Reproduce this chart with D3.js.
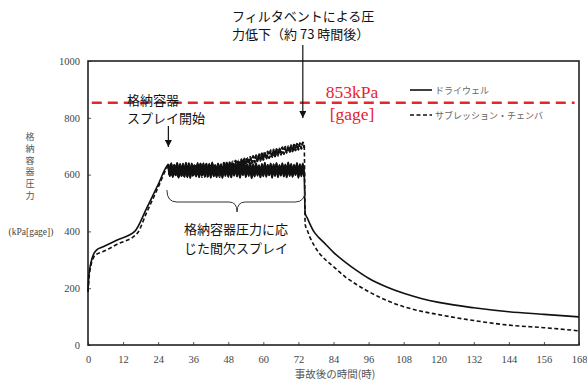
<!DOCTYPE html>
<html>
<head>
<meta charset="utf-8">
<script src="https://cdn.jsdelivr.net/npm/d3@7"></script>
<style>
  body { margin: 0; background: #fff; }
  svg { display: block; }
</style>
</head>
<body>
<div id="chart"></div>
<script>
// --- data ---
const xTicks = [0, 12, 24, 36, 48, 60, 72, 84, 96, 108, 120, 132, 144, 156, 168];
const yTicks = [0, 200, 400, 600, 800, 1000];
const limitValue = 853;

// before spray (hours, kPa)
const dwEarlyHours = [0, 0.3, 1, 2, 3, 5, 10, 16, 20, 24, 27];
const dwEarly = [188, 245, 290, 322, 335, 345, 370, 400, 480, 565, 630];
const scEarlyHours = [0, 0.3, 1, 2, 3, 5, 10, 16, 17, 20, 24, 27];
const scEarly = [188, 230, 280, 310, 320, 328, 355, 385, 395, 465, 555, 625];

// intermittent spray, sampled every half hour from 27.5 h to 74 h
const sprayHours = [
  27.5, 28, 28.5, 29, 29.5, 30, 30.5, 31, 31.5, 32, 32.5, 33, 33.5, 34, 34.5, 35, 35.5, 36, 36.5, 37,
  37.5, 38, 38.5, 39, 39.5, 40, 40.5, 41, 41.5, 42, 42.5, 43, 43.5, 44, 44.5, 45, 45.5, 46, 46.5, 47,
  47.5, 48, 48.5, 49, 49.5, 50, 50.5, 51, 51.5, 52, 52.5, 53, 53.5, 54, 54.5, 55, 55.5, 56, 56.5, 57,
  57.5, 58, 58.5, 59, 59.5, 60, 60.5, 61, 61.5, 62, 62.5, 63, 63.5, 64, 64.5, 65, 65.5, 66, 66.5, 67,
  67.5, 68, 68.5, 69, 69.5, 70, 70.5, 71, 71.5, 72, 72.5, 73, 73.5, 74
];
const dwSpray = [
  636, 595, 639, 592, 634, 598, 640, 590, 637, 596, 633, 593, 641, 597, 635, 589, 638, 599, 632, 594,
  640, 591, 636, 597, 639, 593, 634, 600, 637, 590, 642, 595, 633, 592, 638, 598, 635, 589, 640, 596,
  636, 593, 639, 591, 634, 597, 641, 594, 637, 590, 633, 599, 638, 592, 635, 596, 640, 588, 636, 594,
  639, 597, 632, 591, 637, 595, 641, 593, 634, 598, 638, 590, 636, 596, 640, 592, 633, 597, 639, 594,
  635, 591, 642, 596, 637, 593, 634, 599, 640, 590, 636, 595, 638, 592
];
const scSpray = [
  634, 597, 637, 593, 635, 599, 639, 591, 633, 596, 638, 594, 636, 590, 640, 598, 632, 593, 637, 595,
  635, 599, 639, 592, 634, 596, 638, 591, 636, 597, 640, 594, 633, 598, 637, 592, 635, 600, 641, 606,
  643, 612, 644, 615, 646, 620, 649, 623, 650, 628, 654, 631, 656, 634, 659, 637, 662, 640, 665, 643,
  668, 646, 672, 649, 675, 652, 679, 655, 681, 658, 685, 661, 688, 664, 690, 667, 693, 670, 696, 673,
  698, 676, 701, 679, 703, 682, 706, 685, 708, 688, 710, 691, 713, 694
];

// after the filtered vent
const ventHours = [74.3, 75, 76, 77.3, 79, 81, 84, 88, 92, 96, 102, 108, 114, 120, 132, 144, 156, 168];
const dwVent = [464, 448, 425, 399, 378, 358, 326, 292, 262, 235, 205, 182, 164, 150, 131, 117, 108, 99];
const scVent = [425, 405, 378, 352, 325, 303, 276, 240, 212, 188, 158, 135, 119, 107, 86, 70, 61, 50];

const seriesNames = ["ドライウェル", "サブレッション・チェンバ"];

const width = 587, height = 381;
const margin = {top: 61, right: 8, bottom: 36, left: 88};

const svg = d3.select("#chart").append("svg")
  .attr("width", width)
  .attr("height", height);

const x = d3.scaleLinear().domain([0, 168]).range([margin.left, width - margin.right]);
const y = d3.scaleLinear().domain([0, 1000]).range([height - margin.bottom, margin.top]);

const serif = "'Liberation Serif', 'DejaVu Serif', serif";
const jp = "'Noto Sans CJK JP', sans-serif";

// axes with inward ticks
const xAxis = svg.append("g")
  .attr("transform", `translate(0,${y(0)})`)
  .call(d3.axisBottom(x).tickValues(xTicks).tickFormat(d3.format("d"))
    .tickSizeInner(-3).tickSizeOuter(0).tickPadding(11));
const yAxis = svg.append("g")
  .attr("transform", `translate(${x(0)},0)`)
  .call(d3.axisLeft(y).tickValues(yTicks).tickFormat(d3.format("d"))
    .tickSizeInner(-3).tickSizeOuter(0).tickPadding(8));

[xAxis, yAxis].forEach(a => {
  a.attr("font-family", serif);
  a.select(".domain").remove();
  a.selectAll(".tick line").attr("stroke", "#555");
  a.selectAll(".tick text")
    .attr("font-size", "10.5px")
    .attr("fill", "#444");
});

// plot frame
svg.append("rect")
  .attr("x", x(0)).attr("y", y(1000))
  .attr("width", x(168) - x(0)).attr("height", y(0) - y(1000))
  .attr("fill", "none").attr("stroke", "#222").attr("stroke-width", 1.6);

// axis titles
const yTitle = "格納容器圧力".split("");
svg.append("g").selectAll("text")
  .data(yTitle).enter().append("text")
  .attr("x", 30)
  .attr("y", (d, i) => 140 + i * 11.8)
  .attr("text-anchor", "middle")
  .attr("font-family", jp)
  .attr("font-size", "9px")
  .attr("fill", "#555")
  .text(d => d);

svg.append("text")
  .attr("x", 31).attr("y", 235)
  .attr("text-anchor", "middle")
  .attr("font-family", serif)
  .attr("font-size", "9.5px")
  .attr("fill", "#444")
  .text("(kPa[gage])");

svg.append("text")
  .attr("x", 335).attr("y", 378)
  .attr("text-anchor", "middle")
  .attr("font-family", jp)
  .attr("font-size", "10.5px")
  .attr("fill", "#555")
  .text("事故後の時間(時)");

// limit line
svg.append("line")
  .attr("x1", x(1.3)).attr("x2", x(166.5))
  .attr("y1", y(limitValue)).attr("y2", y(limitValue))
  .attr("stroke", "#e8242c")
  .attr("stroke-width", 2.4)
  .attr("stroke-dasharray", "10,6");

// series
const pairs = (hours, vals) => hours.map((h, i) => [h, vals[i]]);
const dw = [...pairs(dwEarlyHours, dwEarly), ...pairs(sprayHours, dwSpray), ...pairs(ventHours, dwVent)];
const sc = [...pairs(scEarlyHours, scEarly), ...pairs(sprayHours, scSpray), ...pairs(ventHours, scVent)];

const line = d3.line()
  .x(d => x(d[0]))
  .y(d => y(d[1]))
  .curve(d3.curveMonotoneX);

svg.append("path")
  .datum(sc)
  .attr("d", line)
  .attr("fill", "none")
  .attr("stroke", "#111")
  .attr("stroke-width", 1.6)
  .attr("stroke-dasharray", "4,2.5");

svg.append("path")
  .datum(dw)
  .attr("d", line)
  .attr("fill", "none")
  .attr("stroke", "#111")
  .attr("stroke-width", 1.6);

// the spray oscillation prints heavier in the original
svg.append("path")
  .datum(pairs(sprayHours, scSpray))
  .attr("d", line)
  .attr("fill", "none")
  .attr("stroke", "#111")
  .attr("stroke-width", 2.2)
  .attr("stroke-dasharray", "4,2");

svg.append("path")
  .datum(pairs(sprayHours, dwSpray))
  .attr("d", line)
  .attr("fill", "none")
  .attr("stroke", "#111")
  .attr("stroke-width", 2.4);

// legend
const legend = svg.append("g");
seriesNames.forEach((name, i) => {
  const ly = 90 + i * 25;
  legend.append("line")
    .attr("x1", 410).attr("x2", 432)
    .attr("y1", ly).attr("y2", ly)
    .attr("stroke", "#111").attr("stroke-width", 1.6)
    .attr("stroke-dasharray", i ? "4,2.5" : null);
  legend.append("text")
    .attr("x", 435).attr("y", ly + 3.5)
    .attr("font-family", jp)
    .attr("font-size", "9px")
    .attr("fill", "#666")
    .text(name);
});

// red limit label
[["853kPa", 98], ["[gage]", 120]].forEach(([s, ty]) => {
  svg.append("text")
    .attr("x", 352).attr("y", ty)
    .attr("text-anchor", "middle")
    .attr("font-family", serif)
    .attr("font-size", "17.5px")
    .attr("fill", "#e8242c")
    .text(s);
});

// annotations
const note = (tx, ty, s, size) => svg.append("text")
  .attr("x", tx).attr("y", ty)
  .attr("font-family", jp)
  .attr("font-size", size)
  .attr("fill", "#111")
  .text(s);

note(232, 21, "フィルタベントによる圧", "13px");
note(232, 39, "力低下（約 73 時間後）", "13px");
note(127, 105, "格納容器", "13px");
note(127, 123, "スプレイ開始", "13px");
note(184, 234, "格納容器圧力に応", "13px");
note(184, 253, "じた間欠スプレイ", "13px");

svg.append("defs").append("marker")
  .attr("id", "head")
  .attr("viewBox", "0 0 10 10")
  .attr("refX", 10).attr("refY", 5)
  .attr("markerWidth", 7).attr("markerHeight", 7)
  .attr("markerUnits", "userSpaceOnUse")
  .attr("orient", "auto")
  .append("path")
  .attr("d", "M0,0 L10,5 L0,10 Z")
  .attr("fill", "#111");

svg.append("line")
  .attr("x1", x(73.5)).attr("x2", x(73.5))
  .attr("y1", 45).attr("y2", 118)
  .attr("stroke", "#111").attr("stroke-width", 1.2)
  .attr("marker-end", "url(#head)");

svg.append("line")
  .attr("x1", x(27.5)).attr("x2", x(27.5))
  .attr("y1", 126).attr("y2", 147)
  .attr("stroke", "#111").attr("stroke-width", 1.2)
  .attr("marker-end", "url(#head)");

// curly brace under the spray band
const bx0 = x(27), bx1 = x(74.3), bmid = x(51), by0 = 190, by1 = 202, byTip = 212;
svg.append("path")
  .attr("d", `M${bx0},${by0} Q${bx0},${by1} ${bx0 + 10},${by1} L${bmid - 8},${by1} Q${bmid},${by1} ${bmid},${byTip}` +
             ` Q${bmid},${by1} ${bmid + 8},${by1} L${bx1 - 10},${by1} Q${bx1},${by1} ${bx1},${by0}`)
  .attr("fill", "none")
  .attr("stroke", "#333")
  .attr("stroke-width", 1);
</script>
</body>
</html>
